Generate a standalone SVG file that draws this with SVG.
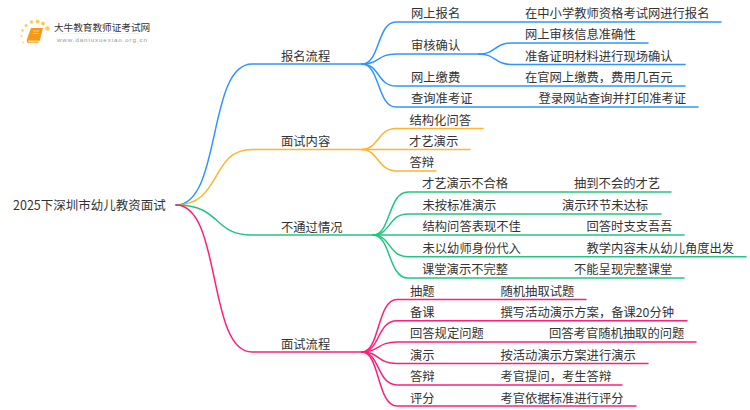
<svg xmlns="http://www.w3.org/2000/svg" width="750" height="410" viewBox="0 0 750 410">
<style>
text{font-family:"Noto Sans CJK SC","Noto Sans",sans-serif;font-size:12.3px;fill:#333}
.c{fill:none;stroke-width:1.5;stroke-linecap:round}
.b{stroke:#2f95ff}.o{stroke:#ffb52e}.g{stroke:#1fc77f}.p{stroke:#ff1f7a}
</style>
<rect width="750" height="410" fill="#fff"/>
<g id="connectors">
<path class="c b" d="M176 205C222 205 207 64 252 64H362"/>
<path class="c b" d="M362 64C380 64 377 22 396 22H721"/>
<path class="c b" d="M362 64C380 64 377 54 396 54H479"/>
<path class="c b" d="M479 54C496 54 494 43 512 43H648"/>
<path class="c b" d="M479 54C496 54 494 64.500 512 64.500H685"/>
<path class="c b" d="M362 64C380 64 377 86 396 86H685"/>
<path class="c b" d="M362 64C380 64 377 107 396 107H698"/>
<path class="c o" d="M176 205C222 205 210 149.500 252 149.500H362"/>
<path class="c o" d="M362 149.500C378 149.500 378 128.500 396 128.500H483"/>
<path class="c o" d="M362 149.500H470"/>
<path class="c o" d="M362 149.500C378 149.500 378 171 396 171H436"/>
<path class="c g" d="M176 205C222 205 212 235 252 235H373"/>
<path class="c g" d="M373 235C391 235 388 192 408 192H671"/>
<path class="c g" d="M373 235C391 235 388 214 408 214H661"/>
<path class="c g" d="M373 235H684"/>
<path class="c g" d="M373 235C391 235 388 256.700 408 256.700H746"/>
<path class="c g" d="M373 235C391 235 388 278 408 278H684"/>
<path class="c p" d="M176 205C222 205 207 352 252 352H362"/>
<path class="c p" d="M362 352C380 352 377 299.500 397 299.500H586"/>
<path class="c p" d="M362 352C380 352 377 320.700 397 320.700H687"/>
<path class="c p" d="M362 352C380 352 377 342 397 342H696"/>
<path class="c p" d="M362 352C380 352 377 363.500 397 363.500H648"/>
<path class="c p" d="M362 352C380 352 377 385 397 385H622"/>
<path class="c p" d="M362 352C380 352 377 406 397 406H636"/>
</g>
<g id="logo">
<g fill="#ffc95c">
<circle cx="47.500" cy="28.500" r="2.300"/><circle cx="43" cy="23.500" r="1.900"/><circle cx="37.500" cy="21.500" r="1.900"/><circle cx="31.500" cy="22" r="1.700"/><circle cx="26" cy="25.500" r="1.500"/>
<circle cx="22.500" cy="30.500" r="1.200"/><circle cx="21.500" cy="36" r="1"/><circle cx="23" cy="42.500" r="0.800"/>
</g>
<path d="M31 28H43L40 40L38 43H29Q26 43 27 39Z" fill="#f59a18"/>
<path d="M28.500 40.500H39.500L38 42.500H29Q27.500 41.500 28.500 40.500Z" fill="#ffd991"/>
<path d="M33 31H39M32.500 33.500H38.500" stroke="#ffd991" stroke-width=".8" fill="none"/>
<text x="54" y="31" style="font-size:9.650px">大牛教育教师证考试网</text>
<path d="M60 33.500H140" stroke="#eee" stroke-width=".7"/>
<text x="57" y="41.500" style="font-size:6.200px;letter-spacing:.9px;fill:#999;font-family:'Liberation Sans',sans-serif">www.daniuxuexiao.org.cn</text>
</g>
<g id="root"><text x="13" y="209.500" style="font-size:12.500px">2025下深圳市幼儿教资面试</text></g>
<g id="n1"><text x="281" y="60.500">报名流程</text></g>
<g id="n2"><text x="281" y="146">面试内容</text></g>
<g id="n3"><text x="281" y="231.500">不通过情况</text></g>
<g id="n4"><text x="281" y="348.500">面试流程</text></g>
<g id="b1"><text x="411" y="18">网上报名</text><text x="525" y="18">在中小学教师资格考试网进行报名</text></g>
<g id="b2"><text x="411" y="50">审核确认</text><text x="525" y="39">网上审核信息准确性</text><text x="525" y="61">准备证明材料进行现场确认</text></g>
<g id="b3"><text x="411" y="82">网上缴费</text><text x="525" y="82">在官网上缴费，费用几百元</text></g>
<g id="b4"><text x="411" y="103">查询准考证</text><text x="538.500" y="103">登录网站查询并打印准考证</text></g>
<g id="o1"><text x="409.500" y="124.500">结构化问答</text></g>
<g id="o2"><text x="409" y="146">才艺演示</text></g>
<g id="o3"><text x="409.500" y="167">答辩</text></g>
<g id="g1"><text x="422" y="188">才艺演示不合格</text><text x="574" y="188">抽到不会的才艺</text></g>
<g id="g2"><text x="422.500" y="209.500">未按标准演示</text><text x="562" y="209.500">演示环节未达标</text></g>
<g id="g3"><text x="422.500" y="231">结构问答表现不佳</text><text x="586.500" y="231">回答时支支吾吾</text></g>
<g id="g4"><text x="422.500" y="252.500">未以幼师身份代入</text><text x="586.500" y="252.500">教学内容未从幼儿角度出发</text></g>
<g id="g5"><text x="422" y="274">课堂演示不完整</text><text x="574" y="274">不能呈现完整课堂</text></g>
<g id="p1"><text x="410" y="295.500">抽题</text><text x="500.500" y="295.500">随机抽取试题</text></g>
<g id="p2"><text x="410" y="317">备课</text><text x="500.500" y="317">撰写活动演示方案，备课20分钟</text></g>
<g id="p3"><text x="410" y="338">回答规定问题</text><text x="549" y="338">回答考官随机抽取的问题</text></g>
<g id="p4"><text x="410" y="359.500">演示</text><text x="500.500" y="359.500">按活动演示方案进行演示</text></g>
<g id="p5"><text x="410" y="381">答辩</text><text x="500.500" y="381">考官提问，考生答辩</text></g>
<g id="p6"><text x="410" y="402.500">评分</text><text x="500.500" y="402.500">考官依据标准进行评分</text></g>
</svg>
